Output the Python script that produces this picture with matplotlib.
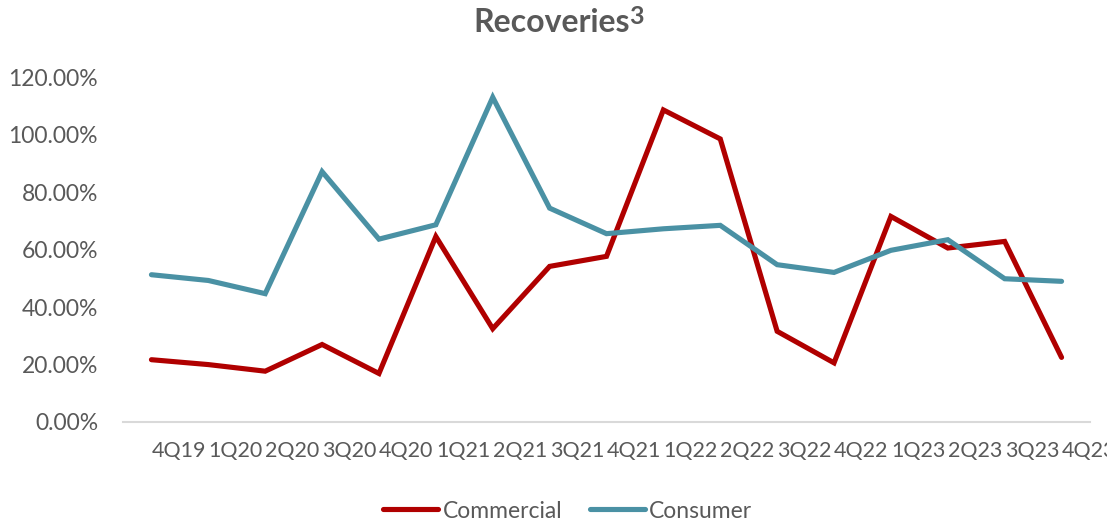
import matplotlib
matplotlib.use("Agg")
import matplotlib.pyplot as plt
from matplotlib.ticker import FuncFormatter, FixedLocator

plt.rcParams['font.family'] = ['Lato', 'DejaVu Sans']

quarters = ["4Q19", "1Q20", "2Q20", "3Q20", "4Q20", "1Q21", "2Q21", "3Q21", "4Q21",
            "1Q22", "2Q22", "3Q22", "4Q22", "1Q23", "2Q23", "3Q23", "4Q23"]
commercial = [21.7, 20.0, 17.7, 27.0, 16.9, 64.6, 32.5, 54.2, 57.7,
              108.7, 98.6, 31.6, 20.6, 71.6, 60.6, 62.9, 22.5]
consumer = [51.3, 49.3, 44.7, 87.2, 63.7, 68.7, 113.1, 74.5, 65.6,
            67.3, 68.5, 54.8, 52.1, 59.8, 63.5, 49.9, 49.0]
y_ticks = [0, 20, 40, 60, 80, 100, 120]

RED = "#b00000"
TEAL = "#4a91a4"
GRAY = "#595959"

fig = plt.figure(figsize=(11.07, 5.22), dpi=100)
ax = fig.add_axes([123 / 1107, 1 - 422 / 522, (1090 - 123) / 1107, (422 - 77.5) / 522])

x = list(range(len(quarters)))
ax.plot(x, commercial, color=RED, lw=3.7, solid_joinstyle='miter', solid_capstyle='round', label="Commercial")
ax.plot(x, consumer, color=TEAL, lw=3.7, solid_joinstyle='miter', solid_capstyle='round', label="Consumer")

ax.set_xlim(-0.5, len(quarters) - 0.5)
ax.set_ylim(0, 120)
ax.yaxis.set_major_locator(FixedLocator(y_ticks))
ax.yaxis.set_major_formatter(FuncFormatter(lambda v, p: f"{v:.2f}%"))
ax.set_xticks(x)
ax.set_xticklabels(quarters)

for s in ["top", "right", "left"]:
    ax.spines[s].set_visible(False)
ax.spines["bottom"].set_color("#d9d9d9")
ax.spines["bottom"].set_linewidth(1.5)

ax.tick_params(axis='both', length=0, labelcolor=GRAY)
ax.tick_params(axis='y', labelsize=16.5, pad=18)
ax.tick_params(axis='x', labelsize=15.5, pad=14)
for lbl in ax.get_xticklabels():
    lbl.set_horizontalalignment('left')

# title with a raised footnote marker
fig.text(630 / 1107, 1 - 22 / 522, "Recoveries", ha='right', va='center',
         fontsize=23, fontweight='bold', color=GRAY)
fig.text(629 / 1107, 1 - 16 / 522, "3", ha='left', va='center',
         fontsize=18, fontweight='bold', color=GRAY)

fig.legend(loc='center', bbox_to_anchor=(567.5 / 1107, 1 - 511 / 522), ncol=2,
           frameon=False, fontsize=16.5, handlelength=2.4, handletextpad=0.17,
           columnspacing=1.2, labelcolor=GRAY)

fig.savefig("out.png", dpi=100)
